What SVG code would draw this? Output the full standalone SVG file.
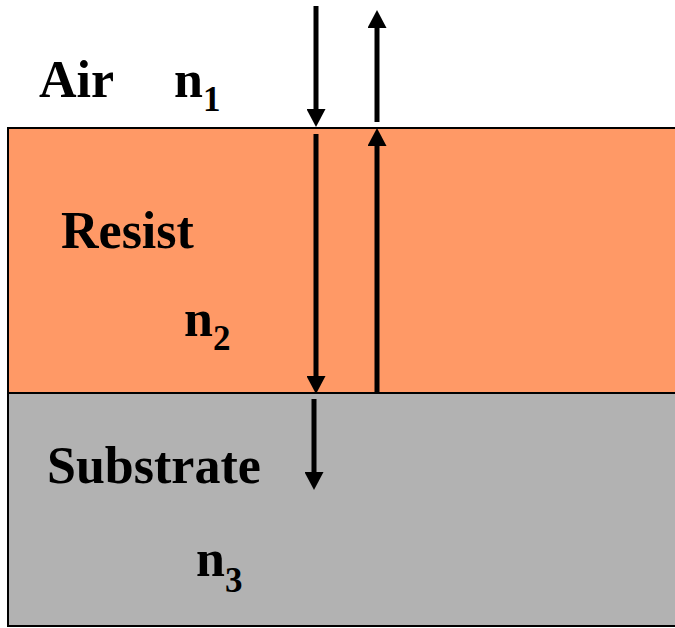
<svg xmlns="http://www.w3.org/2000/svg" width="675" height="628" viewBox="0 0 675 628">
<style>
.lbl{font-family:"Liberation Serif","Times New Roman",serif;font-weight:bold;font-size:52px;fill:#000}
.sub{font-size:35px}
.arr{stroke:#000;stroke-width:5;fill:none;marker-end:url(#ah)}
</style>
<defs>
<marker id="ah" markerUnits="userSpaceOnUse" markerWidth="19" markerHeight="19" refX="0" refY="9.5" orient="auto">
<path d="M0,0 L18,9.5 L0,19 Z" fill="#000"/>
</marker>
</defs>
<rect width="675" height="628" fill="#fff"/>
<g id="resist">
<rect x="8" y="128" width="670" height="265" fill="#FF9966" stroke="#000" stroke-width="2"/>
<text class="lbl" x="61" y="248">Resist</text>
<text class="lbl" x="184" y="336">n<tspan class="sub" dy="14">2</tspan></text>
</g>
<g id="substrate">
<rect x="8" y="393" width="670" height="233" fill="#B2B2B2" stroke="#000" stroke-width="2"/>
<text class="lbl" x="47" y="483">Substrate</text>
<text class="lbl" x="196" y="576">n<tspan class="sub" dy="16">3</tspan></text>
</g>
<g id="air">
<text class="lbl" x="39" y="97">Air</text>
<text class="lbl" x="174" y="97">n<tspan class="sub" dy="14">1</tspan></text>
</g>
<g id="connectors">
<line class="arr" x1="316" y1="6" x2="316" y2="109"/>
<line class="arr" x1="377" y1="122" x2="377" y2="28"/>
<line class="arr" x1="316" y1="134" x2="316" y2="376"/>
<line class="arr" x1="377" y1="392" x2="377" y2="146"/>
<line class="arr" x1="314" y1="399" x2="314" y2="472"/>
</g>
</svg>
